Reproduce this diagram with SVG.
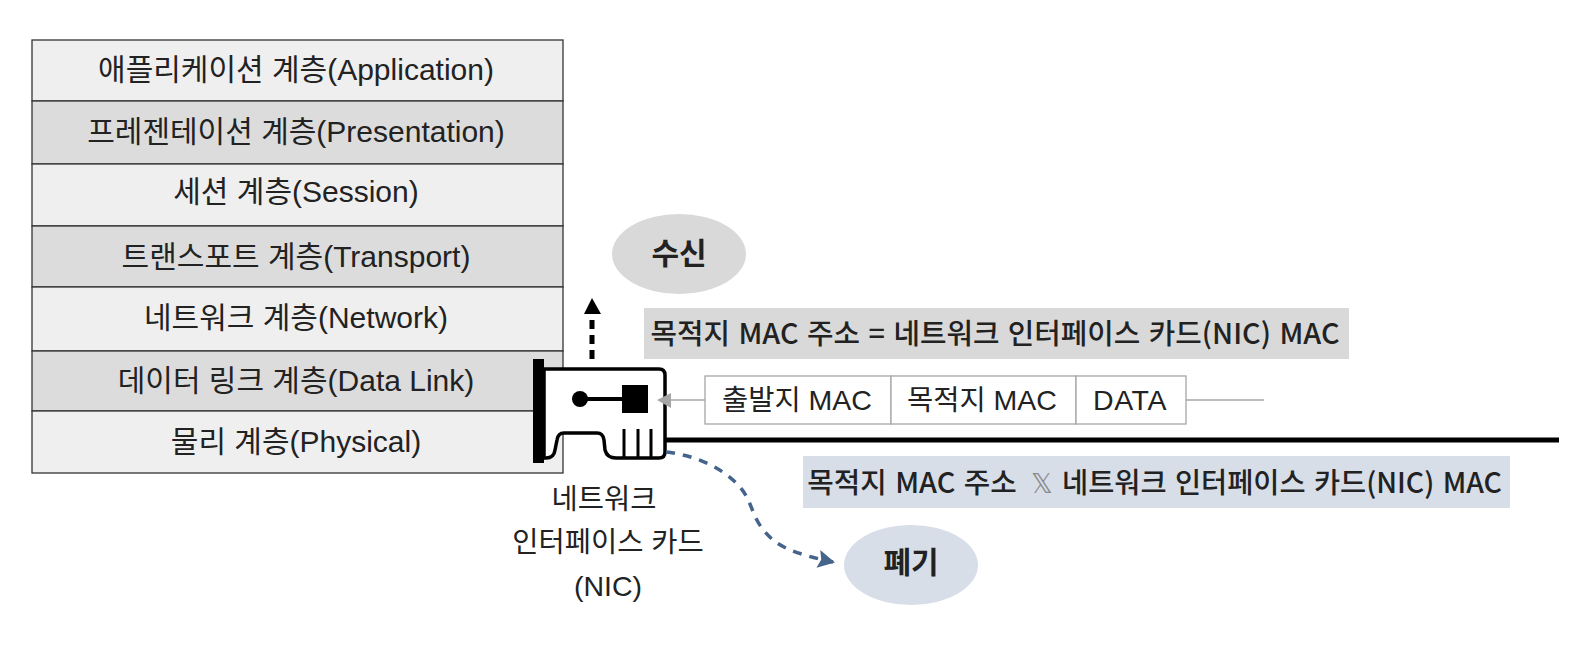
<svg xmlns="http://www.w3.org/2000/svg" width="1580" height="654" viewBox="0 0 1580 654">
<style>
text{font-family:"Liberation Sans","Noto Sans CJK KR",sans-serif;fill:#222;text-anchor:middle}
.l{font-size:30px}
.m{font-size:28.5px}
.b{font-family:"Noto Sans CJK KR","Noto Sans",sans-serif;font-size:28.8px;font-weight:500;word-spacing:2px}
.e{font-family:"Noto Sans CJK KR","Noto Sans",sans-serif;font-size:30px;font-weight:700}
.f{font-size:28.5px}
.c1{fill:#efefef;stroke:#333;stroke-width:1.3}
.c2{fill:#dcdcdc;stroke:#333;stroke-width:1.3}
.cell{fill:#fff;stroke:#a6a6a6;stroke-width:1.3}
</style>
<defs>
<marker id="ah" markerUnits="userSpaceOnUse" markerWidth="20" markerHeight="20" refX="15" refY="10" orient="auto"><path d="M0 1L17 10L0 19L3 10Z" fill="#44648c"/></marker>
</defs>
<g id="layer-application"><rect class="c1" x="32" y="40" width="531" height="61"/><text class="l" x="296" y="80">애플리케이션 계층(Application)</text></g>
<g id="layer-presentation"><rect class="c2" x="32" y="101" width="531" height="63"/><text class="l" x="296" y="142">프레젠테이션 계층(Presentation)</text></g>
<g id="layer-session"><rect class="c1" x="32" y="164" width="531" height="62"/><text class="l" x="296" y="202">세션 계층(Session)</text></g>
<g id="layer-transport"><rect class="c2" x="32" y="226" width="531" height="61"/><text class="l" x="296" y="267">트랜스포트 계층(Transport)</text></g>
<g id="layer-network"><rect class="c1" x="32" y="287" width="531" height="64"/><text class="l" x="296" y="328">네트워크 계층(Network)</text></g>
<g id="layer-datalink"><rect class="c2" x="32" y="351" width="531" height="60"/><text class="l" x="296" y="391">데이터 링크 계층(Data Link)</text></g>
<g id="layer-physical"><rect class="c1" x="32" y="411" width="531" height="62"/><text class="l" x="296" y="452">물리 계층(Physical)</text></g>

<g id="nic">
<path d="M544 369H659Q665 369 665 375V452Q665 458 659 458H616Q607 458 605 450L604 440Q603 433 597 433H564Q558 433 557 440L555 450Q554 458 546 458H544Z" fill="#fff" stroke="#000" stroke-width="3.5"/>
<rect x="533" y="359" width="11" height="104" fill="#000"/>
<circle cx="580" cy="399" r="8" fill="#000"/>
<path d="M584 399H625" stroke="#000" stroke-width="4"/>
<rect x="622" y="385" width="26" height="28" fill="#000"/>
<path d="M624 429V457M638 429V457M651 429V457" stroke="#000" stroke-width="3"/>
<text class="f" x="604" y="509">네트워크</text>
<text class="f" x="608" y="552">인터페이스 카드</text>
<text class="f" x="608" y="596">(NIC)</text>
</g>

<g id="connectors">
<path d="M665 440H1559" fill="none" stroke="#000" stroke-width="5"/>
<path d="M592 359V318" fill="none" stroke="#000" stroke-width="5" stroke-dasharray="9 6"/>
<path d="M592 298L601 314H584Z" fill="#000"/>
<path d="M1186 400H1264" fill="none" stroke="#a6a6a6" stroke-width="1.3"/>
<path d="M705 400H668" fill="none" stroke="#a6a6a6" stroke-width="1.5"/>
<path d="M657 400L671 393V408Z" fill="#a6a6a6"/>
<path d="M666 452C700 456 725 470 740 487C755 505 750 520 773 540C785 550 805 556 833 562" fill="none" stroke="#44648c" stroke-width="3.5" stroke-dasharray="9 8" marker-end="url(#ah)"/>
</g>

<g id="receive"><ellipse cx="679" cy="254" rx="67" ry="40" fill="#d9d9d9"/><text class="e" x="679" y="264">수신</text></g>
<g id="discard"><ellipse cx="911" cy="565" rx="67" ry="40" fill="#d7dee8"/><text class="e" x="911" y="573">폐기</text></g>

<g id="match-label"><rect x="644" y="308" width="705" height="51" fill="#d9d9d9"/><text class="b" x="995" y="344">목적지 MAC 주소 = 네트워크 인터페이스 카드(NIC) MAC</text></g>
<g id="frame">
<rect class="cell" x="705" y="376" width="186" height="48"/><text class="m" x="797" y="410">출발지 MAC</text>
<rect class="cell" x="891" y="376" width="185" height="48"/><text class="m" x="982" y="410">목적지 MAC</text>
<rect class="cell" x="1076" y="376" width="110" height="48"/><text class="m" x="1130" y="410" style="letter-spacing:.5px">DATA</text>
</g>
<g id="mismatch-label"><rect x="803" y="456" width="707" height="52" fill="#d7dee8"/>
<text class="b" x="912" y="493">목적지 MAC 주소</text>
<text x="1042" y="493" style="font-family:'DejaVu Sans',sans-serif;font-size:27px;fill:#8a8a8a">𝕏</text>
<text class="b" x="1282" y="493" style="font-size:28.4px">네트워크 인터페이스 카드(NIC) MAC</text></g>
</svg>
